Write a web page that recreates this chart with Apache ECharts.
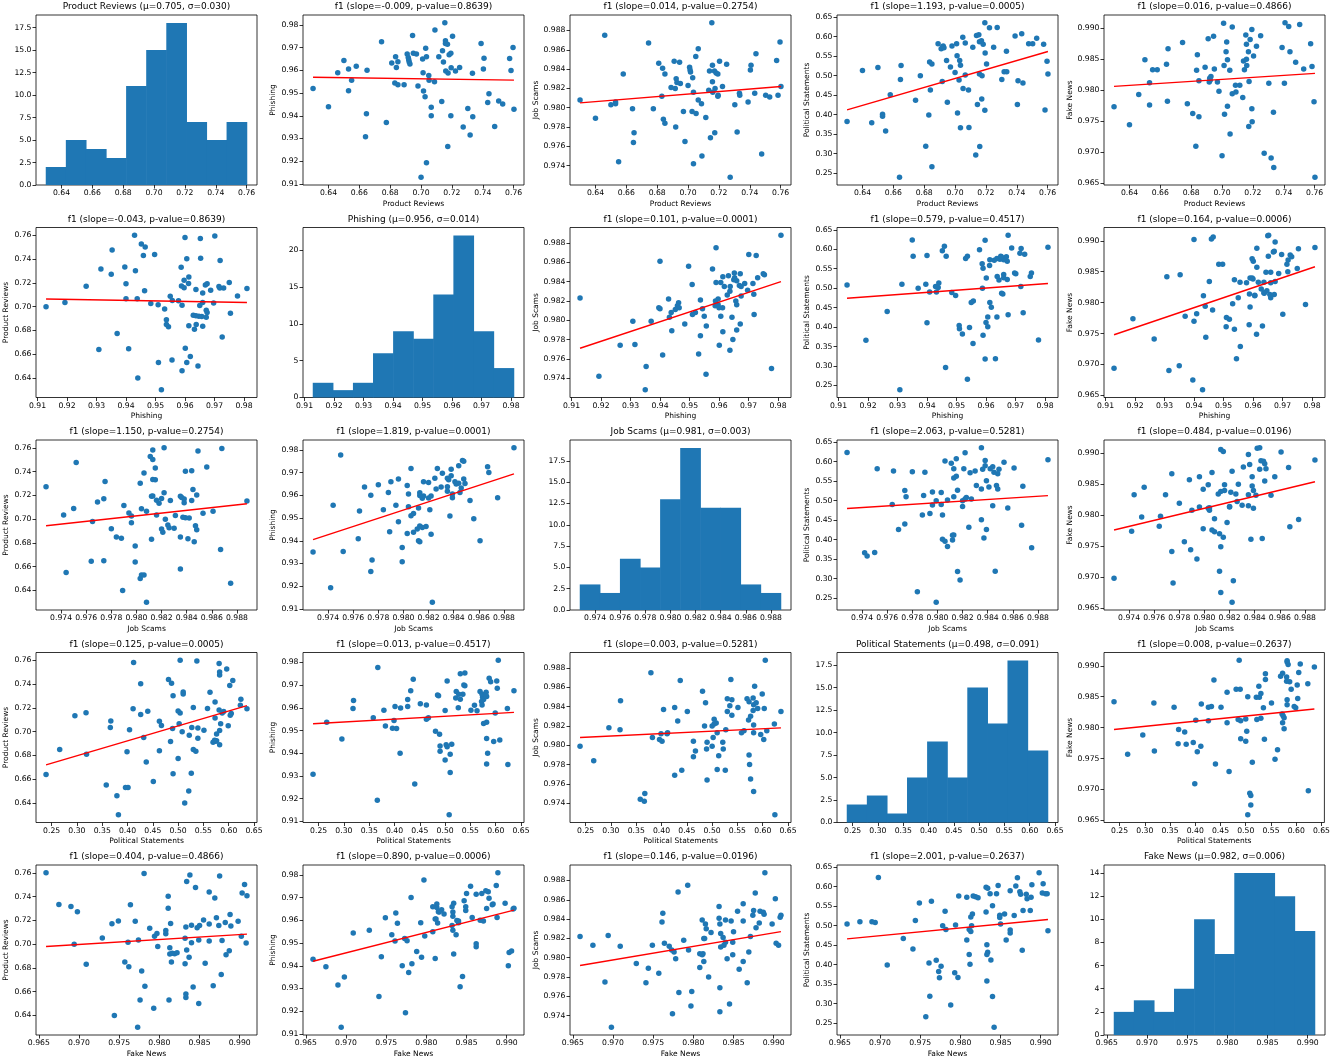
<!DOCTYPE html>
<html><head><meta charset="utf-8">
<script src="https://cdn.jsdelivr.net/npm/echarts@6/dist/echarts.min.js"></script>
<style>html,body{margin:0;padding:0;background:#fff}#chart{width:1333px;height:1061px}</style>
</head><body><div id="chart"></div>
<script>
const varNames = ['Product Reviews', 'Phishing', 'Job Scams', 'Political Statements', 'Fake News'];

const productReviews = [0.630,0.640,0.646,0.650,0.653,0.653,0.655,0.658,0.665,0.6646,
  0.664,0.6744,0.6775,0.681,0.6835,0.684,0.685,0.683,0.685,0.689,
  0.691,0.6917,0.692,0.6923,0.6928,0.6945,0.695,0.697,0.698,0.700,
  0.701,0.7013,0.7016,0.703,0.7035,0.7026,0.7035,0.705,0.7052,0.7066,
  0.7066,0.7087,0.709,0.7115,0.7134,0.7139,0.7145,0.7154,0.7158,0.7158,
  0.716,0.7171,0.7175,0.7173,0.7182,0.7193,0.7195,0.7193,0.7204,0.7223,
  0.725,0.7273,0.7303,0.7318,0.7333,0.7335,0.7389,0.7404,0.7408,0.7432,
  0.744,0.7477,0.7503,0.7529,0.7574,0.7583,0.7596,0.7602];
const phishing = [0.952,0.944,0.959,0.9644,0.9606,0.951,0.9556,0.9618,0.9601,0.9409,
  0.9308,0.9726,0.937,0.9632,0.966,0.9613,0.9638,0.9544,0.9537,0.9537,
  0.9672,0.9657,0.9647,0.9637,0.9628,0.9754,0.9675,0.9672,0.9531,0.9129,
  0.965,0.959,0.9509,0.9697,0.966,0.9484,0.9193,0.9578,0.9557,0.9438,
  0.940,0.955,0.9778,0.966,0.9463,0.9687,0.9637,0.981,0.9731,0.9718,
  0.9597,0.9715,0.9588,0.9265,0.9669,0.9675,0.9612,0.940,0.975,0.9597,
  0.9613,0.935,0.9432,0.9315,0.9587,0.9396,0.9719,0.9606,0.9653,0.9459,
  0.9497,0.9353,0.9465,0.9452,0.9652,0.960,0.9701,0.9429];
const jobScams = [0.9808,0.9789,0.9875,0.9803,0.9804,0.9806,0.9744,0.9835,0.9774,0.9764,
  0.9799,0.9867,0.9799,0.9846,0.9841,0.9788,0.9835,0.9812,0.9784,0.9821,
  0.9848,0.982,0.978,0.983,0.9826,0.9847,0.9825,0.9796,0.9765,0.9823,
  0.9842,0.9839,0.9837,0.9831,0.9816,0.9796,0.9742,0.9853,0.9794,0.9808,
  0.9861,0.9804,0.975,0.979,0.9818,0.9838,0.9769,0.9888,0.9844,0.9827,
  0.9816,0.9838,0.982,0.9774,0.9836,0.9835,0.9813,0.9812,0.9848,0.9822,
  0.9845,0.9728,0.9803,0.9775,0.9815,0.9813,0.9806,0.9839,0.9844,0.9815,
  0.9856,0.9752,0.9813,0.9811,0.9849,0.9813,0.9868,0.9822];
const politicalStatements = [0.382,0.513,0.379,0.521,0.401,0.396,0.358,0.451,0.526,0.490,
  0.239,0.437,0.500,0.319,0.535,0.463,0.530,0.399,0.266,0.582,
  0.569,0.485,0.574,0.576,0.572,0.539,0.432,0.522,0.576,0.508,
  0.582,0.551,0.404,0.539,0.527,0.489,0.366,0.599,0.467,0.502,
  0.584,0.463,0.367,0.573,0.296,0.603,0.426,0.605,0.587,0.504,
  0.318,0.590,0.500,0.440,0.581,0.636,0.558,0.411,0.530,0.623,
  0.573,0.624,0.490,0.510,0.563,0.510,0.602,0.426,0.487,0.608,
  0.481,0.582,0.582,0.596,0.581,0.412,0.537,0.504];
const fakeNews = [0.9773,0.9744,0.9793,0.9849,0.9812,0.9776,0.9833,0.9833,0.9867,0.9782,
  0.9842,0.9877,0.9778,0.9762,0.9832,0.9857,0.9815,0.9709,0.9757,0.9837,
  0.9883,0.9813,0.9819,0.9816,0.9822,0.9887,0.9834,0.9813,0.9798,0.9694,
  0.9908,0.984,0.9761,0.9878,0.9849,0.9862,0.9774,0.9832,0.9729,0.9794,
  0.9902,0.9808,0.9797,0.9808,0.9788,0.9847,0.9833,0.9889,0.9874,0.985,
  0.984,0.9862,0.9814,0.9741,0.9882,0.9898,0.9749,0.977,0.9855,0.9871,
  0.9888,0.9698,0.9811,0.969,0.9764,0.9675,0.9869,0.9811,0.9909,0.9903,
  0.9862,0.9845,0.9906,0.9834,0.9875,0.9838,0.9781,0.9659];

// histogram bin counts (10 bins each)
const histProductReviews = [2,5,4,3,11,15,18,7,5,7];
const histPhishing = [2,1,2,6,9,8,14,22,9,4];
const histJobScams = [3,2,6,5,13,19,12,12,3,2];
const histPoliticalStatements = [2,3,1,5,9,5,15,11,18,8];
const histFakeNews = [2,3,2,4,10,7,14,14,12,9];

const histMean = ['0.705', '0.956', '0.981', '0.498', '0.982'];
const histSigma = ['0.030', '0.014', '0.003', '0.091', '0.006'];

// regression titles (row = x variable, col = y variable)
const fitSlope = [
  [null, '-0.009', '0.014', '1.193', '0.016'],
  ['-0.043', null, '0.101', '0.579', '0.164'],
  ['1.150', '1.819', null, '2.063', '0.484'],
  ['0.125', '0.013', '0.003', null, '0.008'],
  ['0.404', '0.890', '0.146', '2.001', null]];
const fitPValue = [
  [null, '0.8639', '0.2754', '0.0005', '0.4866'],
  ['0.8639', null, '0.0001', '0.4517', '0.0006'],
  ['0.2754', '0.0001', null, '0.5281', '0.0196'],
  ['0.0005', '0.4517', '0.5281', null, '0.2637'],
  ['0.4866', '0.0006', '0.0196', '0.2637', null]];
// fitted line y at left (x min) and right (x max) ends
const fitYStart = [
  [null, 0.957, 0.9805, 0.412, 0.9806],
  [0.7065, null, 0.9771, 0.474, 0.9748],
  [0.6945, 0.9405, null, 0.480, 0.9776],
  [0.672, 0.953, 0.9808, null, 0.9797],
  [0.698, 0.942, 0.9792, 0.466, null]];
const fitYEnd = [
  [null, 0.9557, 0.9822, 0.562, 0.9827],
  [0.7035, null, 0.984, 0.512, 0.9858],
  [0.713, 0.9695, null, 0.513, 0.9854],
  [0.722, 0.958, 0.9818, null, 0.983],
  [0.7085, 0.9645, 0.9827, 0.516, null]];

// tick labels
const ticksProductReviews = [0.64, 0.66, 0.68, 0.70, 0.72, 0.74, 0.76];
const ticksPhishing = [0.91, 0.92, 0.93, 0.94, 0.95, 0.96, 0.97, 0.98];
const ticksJobScams = [0.974, 0.976, 0.978, 0.980, 0.982, 0.984, 0.986, 0.988];
const ticksPoliticalStatements = [0.25, 0.30, 0.35, 0.40, 0.45, 0.50, 0.55, 0.60, 0.65];
const ticksFakeNews = [0.965, 0.970, 0.975, 0.980, 0.985, 0.990];
const tickDecimals = [2, 2, 3, 2, 3];
const histTicksProductReviews = [0, 2.5, 5, 7.5, 10, 12.5, 15, 17.5];
const histTicksPhishing = [0, 5, 10, 15, 20];
const histTicksJobScams = [0, 2.5, 5, 7.5, 10, 12.5, 15, 17.5];
const histTicksPoliticalStatements = [0, 2.5, 5, 7.5, 10, 12.5, 15, 17.5];
const histTicksFakeNews = [0, 2, 4, 6, 8, 10, 12, 14];
const histTickDecimals = [1, 0, 1, 1, 0];

// ---------- build ----------
const vars = [productReviews, phishing, jobScams, politicalStatements, fakeNews];
const hists = [histProductReviews, histPhishing, histJobScams, histPoliticalStatements, histFakeNews];
const ticks = [ticksProductReviews, ticksPhishing, ticksJobScams, ticksPoliticalStatements, ticksFakeNews];
const histTicks = [histTicksProductReviews, histTicksPhishing, histTicksJobScams, histTicksPoliticalStatements, histTicksFakeNews];
const ext = vars.map(a => {
  const mn = Math.min(...a), mx = Math.max(...a), p = (mx - mn) * 0.05;
  return { mn, mx, lo: mn - p, hi: mx + p };
});

const FONT = 'DejaVu Sans';
const GL = 36, GT = 15, GW = 221, GH = 170, PX = 267, PY = 212.5;
const yNameGap = [24, 24, 28, 25, 28];
const TICK_FS = 7.7;

const grids = [], xAxes = [], yAxes = [], series = [], titles = [];
const tickStyle = { show: true, inside: false, length: 3.5, lineStyle: { color: '#000', width: 0.8 } };

for (let r = 0; r < 5; r++) {
  for (let c = 0; c < 5; c++) {
    const idx = r * 5 + c;
    const left = GL + PX * c, top = GT + PY * r;
    const diag = r === c;
    const xv = r, yv = c;   // x = row variable, y = column variable
    grids.push({ left, top, width: GW, height: GH, show: true, borderColor: '#000', borderWidth: 0.8, backgroundColor: 'rgba(0,0,0,0)' });
    xAxes.push({
      type: 'value', gridIndex: idx, min: ext[xv].lo, max: ext[xv].hi,
      splitLine: { show: false }, axisLine: { show: false },
      axisTick: Object.assign({ customValues: ticks[xv] }, tickStyle),
      axisLabel: { customValues: ticks[xv], formatter: v => Number(v).toFixed(tickDecimals[xv]),
        fontSize: TICK_FS, color: '#000', margin: 4.5, fontFamily: FONT },
      name: diag ? '' : varNames[xv], nameLocation: 'middle', nameGap: 15,
      nameTextStyle: { fontSize: 7.5, color: '#000', fontFamily: FONT }
    });
    if (diag) {
      const h = hists[xv];
      yAxes.push({
        type: 'value', gridIndex: idx, min: 0, max: Math.max(...h) * 1.05,
        splitLine: { show: false }, axisLine: { show: false },
        axisTick: Object.assign({ customValues: histTicks[xv] }, tickStyle),
        axisLabel: { customValues: histTicks[xv], formatter: v => Number(v).toFixed(histTickDecimals[xv]),
          fontSize: TICK_FS, color: '#000', margin: 4.5, fontFamily: FONT }
      });
      const w = (ext[xv].mx - ext[xv].mn) / h.length;
      series.push({
        type: 'custom', xAxisIndex: idx, yAxisIndex: idx,
        data: h.map((n, k) => [ext[xv].mn + k * w, ext[xv].mn + (k + 1) * w, n]),
        encode: { x: [0, 1], y: 2 },
        renderItem: (params, api) => {
          const p0 = api.coord([api.value(0), 0]);
          const p1 = api.coord([api.value(1), api.value(2)]);
          return { type: 'rect', shape: { x: p0[0] - 0.3, y: p1[1], width: p1[0] - p0[0] + 0.6, height: p0[1] - p1[1] },
            style: { fill: '#1f77b4' } };
        }
      });
      titles.push({ text: varNames[xv] + ' (\u03bc=' + histMean[xv] + ', \u03c3=' + histSigma[xv] + ')' });
    } else {
      yAxes.push({
        type: 'value', gridIndex: idx, min: ext[yv].lo, max: ext[yv].hi,
        splitLine: { show: false }, axisLine: { show: false },
        axisTick: Object.assign({ customValues: ticks[yv] }, tickStyle),
        axisLabel: { customValues: ticks[yv], formatter: v => Number(v).toFixed(tickDecimals[yv]),
          fontSize: TICK_FS, color: '#000', margin: 4.5, fontFamily: FONT },
        name: varNames[yv], nameLocation: 'middle', nameGap: yNameGap[yv], nameRotate: 90,
        nameTextStyle: { fontSize: 7.5, color: '#000', fontFamily: FONT }
      });
      series.push({
        type: 'scatter', xAxisIndex: idx, yAxisIndex: idx, symbolSize: 5.5,
        itemStyle: { color: '#1f77b4', opacity: 1 },
        data: vars[xv].map((x, i) => [x, vars[yv][i]])
      });
      series.push({
        type: 'line', xAxisIndex: idx, yAxisIndex: idx, symbol: 'none',
        lineStyle: { color: '#ff0000', width: 1.4 },
        data: [[ext[xv].mn, fitYStart[r][c]], [ext[xv].mx, fitYEnd[r][c]]]
      });
      titles.push({ text: 'f1 (slope=' + fitSlope[r][c] + ', p-value=' + fitPValue[r][c] + ')' });
    }
    Object.assign(titles[titles.length - 1], {
      left: left + GW / 2, top: top - 12.5, textAlign: 'center', padding: 0,
      textStyle: { fontSize: 9, fontWeight: 'normal', color: '#000', fontFamily: FONT }
    });
  }
}

const chart = echarts.init(document.getElementById('chart'), null, { renderer: 'canvas' });
chart.setOption({
  animation: false,
  backgroundColor: '#fff',
  title: titles, grid: grids, xAxis: xAxes, yAxis: yAxes, series
});
</script></body></html>
